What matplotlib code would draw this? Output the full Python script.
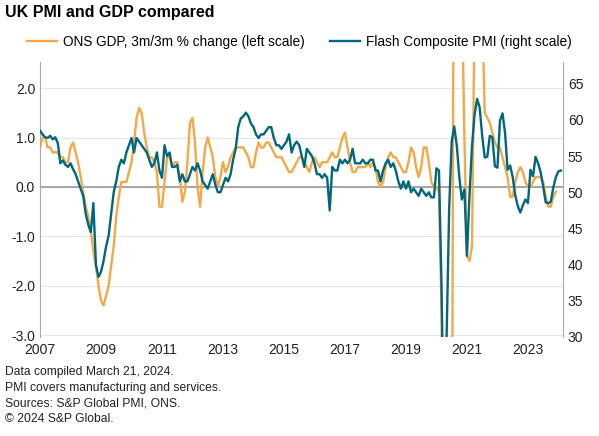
import numpy as np
import matplotlib
matplotlib.use("Agg")
import matplotlib.pyplot as plt

plt.rcParams['font.family'] = ['Liberation Sans', 'DejaVu Sans']

pmi = [
 58.5,58.0,57.6,57.5,57.8,57.3,57.6,56.8,54.0,54.4,53.8,53.5,
 54.0,53.2,52.5,51.5,50.5,49.5,47.0,45.5,44.5,48.5,40.0,38.3,
 39.0,40.5,42.5,44.0,47.0,50.0,51.5,53.5,54.5,54.0,55.5,56.5,
 57.5,55.5,57.5,57.0,56.5,56.0,55.5,54.5,53.5,54.0,55.5,53.0,
 52.0,56.5,55.0,55.5,53.5,53.5,53.8,51.5,52.5,51.5,51.5,52.5,
 53.5,53.0,54.0,53.0,51.5,51.0,50.5,51.5,52.5,51.0,50.0,50.0,
 51.0,52.0,51.5,52.5,54.5,56.0,59.0,60.2,60.5,61.0,60.5,59.5,
 59.0,58.0,57.5,58.0,58.0,58.5,59.0,59.0,57.5,56.5,56.5,56.0,
 56.5,57.0,58.0,55.5,56.5,57.0,56.5,55.0,53.5,56.0,55.5,55.0,
 54.0,52.5,52.5,52.0,52.5,52.0,47.5,53.5,53.0,53.0,54.5,54.0,
 54.5,54.0,54.5,56.0,54.0,54.0,54.0,54.5,54.0,54.0,54.5,54.5,
 53.0,53.0,51.5,53.0,54.0,54.5,53.5,54.0,53.0,51.5,50.5,51.5,
 50.5,51.5,50.0,50.5,50.0,49.5,50.5,50.0,49.5,50.0,49.3,49.3,
 53.3,53.0,37.0,13.8,30.0,47.7,57.0,59.1,56.5,52.1,49.0,50.4,
 41.2,49.6,56.4,60.7,62.9,61.7,57.8,54.8,54.9,57.8,57.6,53.6,
 53.4,59.9,60.9,58.2,53.1,53.7,52.1,49.6,48.1,47.2,48.2,49.0,
 48.5,53.1,52.2,54.9,54.0,52.8,50.8,48.6,48.5,48.7,50.7,52.1,
 52.9,53.0,
]
gdp = [
 0.8,1.0,1.0,0.8,0.8,0.7,0.7,0.7,0.6,0.6,0.5,0.5,
 0.8,0.9,0.7,0.5,0.2,-0.1,-0.4,-0.6,-0.9,-1.3,-1.6,-2.0,
 -2.3,-2.4,-2.2,-2.0,-1.6,-1.2,-0.6,-0.2,0.1,0.1,0.1,0.3,
 0.5,0.9,1.4,1.6,1.5,1.1,0.8,0.6,0.6,0.5,0.3,-0.4,
 -0.4,0.1,0.6,0.6,0.4,0.5,0.5,0.2,-0.3,-0.1,0.5,1.3,
 1.4,0.9,0.0,-0.4,0.3,0.8,1.0,0.8,0.6,0.2,0.0,0.2,
 0.5,0.3,0.4,0.6,0.7,0.8,0.8,0.8,0.8,0.7,0.6,0.4,
 0.4,0.7,0.9,0.8,0.8,0.9,0.9,0.8,0.7,0.6,0.6,0.6,
 0.5,0.4,0.3,0.3,0.4,0.5,0.6,0.6,0.5,0.4,0.3,0.5,
 0.6,0.5,0.4,0.5,0.5,0.5,0.6,0.7,0.6,0.6,0.8,1.0,
 1.1,0.8,0.5,0.3,0.3,0.4,0.4,0.4,0.4,0.5,0.4,0.5,
 0.4,0.1,0.0,0.1,0.4,0.6,0.7,0.6,0.6,0.5,0.4,0.3,
 0.3,0.5,0.8,0.7,0.4,0.2,0.4,0.8,0.8,0.5,0.1,0.0,
 0.0,-0.1,-2.5,-11.0,-20.0,-20.0,-8.0,9.0,16.0,10.0,4.0,1.0,
 -1.4,-1.5,-1.2,3.6,4.8,4.8,3.6,1.5,1.4,1.3,1.1,0.9,
 0.8,0.8,0.6,0.4,0.2,-0.2,-0.2,0.1,0.3,0.4,0.3,0.1,
 0.0,0.0,0.1,0.2,0.2,0.2,0.1,-0.2,-0.4,-0.4,-0.2,-0.1,
]
years = [2007, 2009, 2011, 2013, 2015, 2017, 2019, 2021, 2023]
left_ticks = [2.0, 1.0, 0.0, -1.0, -2.0, -3.0]
right_ticks = [30, 35, 40, 45, 50, 55, 60, 65]

t_pmi = 2007 + np.arange(len(pmi)) / 12
t_gdp = 2007 + np.arange(len(gdp)) / 12

ORANGE = "#F4A947"
BLUE = "#00677F"

fig = plt.figure(figsize=(5.99, 4.36), dpi=100)
ax = fig.add_axes([40/599, 1-337/436, (563-40)/599, (337-62)/436])
ax2 = ax.twinx()

ax.set_ylim(-3.04, 2.53)
ax2.set_ylim(30, 68.0)
ax.set_xlim(2007, 2024.15)

for v in left_ticks:
    ax.axhline(v, color="#e6e6e6", lw=0.8, zorder=0)
ax.axhline(0, color="#999999", lw=1.2, zorder=1)

lg, = ax.plot(t_gdp, gdp, color=ORANGE, lw=1.7, zorder=2)
lp, = ax2.plot(t_pmi, pmi, color=BLUE, lw=1.7, zorder=3)

ax.set_yticks(left_ticks)
ax.set_yticklabels([f"{v:.1f}" for v in left_ticks])
ax2.set_yticks(right_ticks)
ax.set_xticks(years)
ax.set_xticklabels([str(y) for y in years])
for a in (ax, ax2):
    a.tick_params(length=0, labelsize=10, colors="#222222")
    for s in a.spines.values():
        s.set_visible(False)
ax.spines["left"].set_visible(True)
ax.spines["left"].set_color("#aaaaaa")
ax2.spines["right"].set_visible(True)
ax2.spines["right"].set_color("#aaaaaa")
ax.tick_params(axis="x", pad=4)

fig.text(5/599, 1-13/436, "UK PMI and GDP compared", fontsize=11.5, fontweight="bold", va="center")
fig.legend([lg, lp], ["ONS GDP, 3m/3m % change (left scale)", "Flash Composite PMI (right scale)"],
           loc="center", bbox_to_anchor=(0.5, 1-42/436), ncol=2, frameon=False,
           fontsize=9.8, handlelength=2.2, columnspacing=1.8, handletextpad=0.5)
notes = ["Data compiled March 21, 2024.", "PMI covers manufacturing and services.",
         "Sources: S&P Global PMI, ONS.", "\u00a9 2024 S&P Global."]
for i, n in enumerate(notes):
    fig.text(5/599, 1-(372+i*15.5)/436, n, fontsize=8.7, va="center", color="#222222")

fig.savefig("out.png", dpi=100)
